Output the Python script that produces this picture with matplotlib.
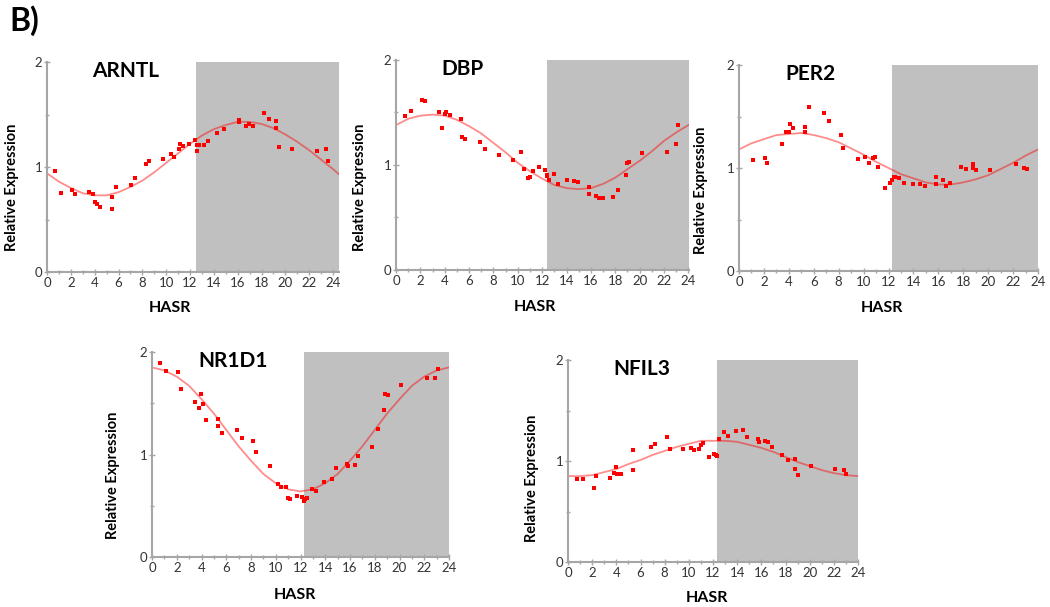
import matplotlib
matplotlib.use("Agg")
import matplotlib.pyplot as plt
from matplotlib.ticker import MultipleLocator

plt.rcParams['font.family'] = ['Lato', 'DejaVu Sans']

# fitted curves (hourly)
fit_hours = list(range(25))
arntl_fit_hours = fit_hours + [24.5]
arntl_fit = [0.94, 0.86, 0.80, 0.75, 0.73, 0.73, 0.76, 0.81, 0.87, 0.95, 1.04, 1.13,
             1.22, 1.30, 1.36, 1.40, 1.43, 1.43, 1.41, 1.37, 1.31, 1.24, 1.16, 1.07, 0.98, 0.93]
dbp_fit = [1.38, 1.44, 1.47, 1.48, 1.47, 1.43, 1.37, 1.30, 1.21, 1.12, 1.02, 0.94, 0.87,
           0.81, 0.78, 0.77, 0.78, 0.82, 0.88, 0.96, 1.04, 1.13, 1.23, 1.31, 1.38]
per2_fit = [1.18, 1.24, 1.28, 1.32, 1.33, 1.34, 1.32, 1.29, 1.25, 1.19, 1.13, 1.06, 1.00,
            0.94, 0.90, 0.86, 0.84, 0.84, 0.86, 0.89, 0.93, 0.99, 1.05, 1.12, 1.18]
nr1d1_fit = [1.85, 1.82, 1.76, 1.67, 1.54, 1.40, 1.24, 1.08, 0.94, 0.81, 0.72, 0.66, 0.64,
             0.66, 0.72, 0.81, 0.94, 1.08, 1.24, 1.40, 1.54, 1.67, 1.76, 1.82, 1.85]
nfil3_fit = [0.85, 0.85, 0.86, 0.89, 0.92, 0.97, 1.01, 1.06, 1.10, 1.14, 1.17, 1.20, 1.20,
             1.20, 1.19, 1.16, 1.13, 1.09, 1.04, 0.99, 0.95, 0.91, 0.88, 0.86, 0.85]

# sample points
arntl_x = [0.67, 1.17, 2.13, 2.35, 3.52, 3.83, 4.0, 4.17, 4.45, 5.45, 5.43, 5.76, 7.02, 7.36,
           8.34, 8.56, 9.73, 10.4, 10.65, 11.05, 11.16, 11.38, 11.94, 12.42, 12.56, 12.62,
           12.75, 13.17, 13.54, 14.24, 14.85, 16.11, 16.14, 16.73, 16.98, 17.29, 18.18, 18.6,
           19.19, 19.22, 19.47, 20.56, 22.66, 23.38, 23.58]
arntl_y = [0.965, 0.756, 0.784, 0.746, 0.765, 0.746, 0.663, 0.644, 0.616, 0.717, 0.597, 0.806,
           0.825, 0.898, 1.029, 1.06, 1.079, 1.121, 1.098, 1.168, 1.219, 1.2, 1.219, 1.257,
           1.149, 1.21, 1.21, 1.21, 1.251, 1.321, 1.359, 1.448, 1.432, 1.39, 1.41, 1.39, 1.517,
           1.46, 1.438, 1.368, 1.19, 1.171, 1.149, 1.171, 1.06]

dbp_x = [0.71, 1.2, 2.13, 2.35, 3.5, 3.8, 3.99, 4.13, 4.43, 5.36, 5.39, 5.69, 6.89, 7.27, 8.42,
         9.6, 10.22, 10.47, 10.85, 11.02, 11.21, 11.73, 12.19, 12.36, 12.38, 12.55, 12.93,
         13.31, 14.0, 14.6, 14.93, 15.86, 15.88, 16.43, 16.68, 17.03, 17.85, 18.26, 18.86,
         18.92, 19.11, 20.17, 22.25, 22.96, 23.18]
dbp_y = [1.47, 1.517, 1.619, 1.61, 1.508, 1.356, 1.489, 1.508, 1.479, 1.438, 1.267, 1.248,
         1.216, 1.149, 1.098, 1.048, 1.127, 0.962, 0.873, 0.883, 0.943, 0.981, 0.949, 0.908,
         0.895, 0.857, 0.911, 0.819, 0.86, 0.851, 0.841, 0.79, 0.721, 0.702, 0.689, 0.689,
         0.692, 0.762, 0.902, 1.016, 1.025, 1.117, 1.127, 1.197, 1.378]

per2_x = [1.12, 2.09, 2.27, 3.42, 3.75, 3.88, 4.01, 4.07, 4.36, 5.3, 5.3, 5.62, 6.82, 7.22,
          8.16, 8.37, 9.52, 10.14, 10.41, 10.78, 10.94, 11.16, 11.69, 12.15, 12.28, 12.41,
          12.55, 12.87, 13.27, 13.94, 14.5, 14.9, 15.79, 15.81, 16.37, 16.62, 16.96, 17.82,
          18.22, 18.81, 18.81, 19.05, 20.12, 22.21, 22.9, 23.12]
per2_y = [1.074, 1.094, 1.052, 1.23, 1.35, 1.35, 1.35, 1.43, 1.392, 1.401, 1.35, 1.589, 1.531,
          1.46, 1.32, 1.191, 1.084, 1.104, 1.052, 1.094, 1.104, 1.01, 0.809, 0.858, 0.887,
          0.916, 0.916, 0.9, 0.858, 0.848, 0.848, 0.825, 0.848, 0.916, 0.887, 0.828, 0.858,
          1.013, 0.987, 1.042, 0.997, 0.977, 0.977, 1.042, 0.997, 0.987]

nr1d1_x = [0.67, 1.16, 2.13, 2.32, 3.5, 3.77, 3.96, 4.12, 4.39, 5.33, 5.33, 5.68, 6.87, 7.25,
           8.19, 8.4, 9.56, 10.21, 10.45, 10.83, 10.96, 11.15, 11.72, 12.15, 12.28, 12.34,
           12.5, 12.9, 13.28, 13.93, 14.55, 14.9, 15.78, 15.81, 16.38, 16.62, 17.8, 18.24,
           18.77, 18.86, 19.07, 20.15, 22.2, 22.9, 23.11]
nr1d1_y = [1.89, 1.818, 1.809, 1.64, 1.511, 1.449, 1.588, 1.488, 1.339, 1.348, 1.277, 1.209,
           1.238, 1.157, 1.128, 1.028, 0.891, 0.713, 0.684, 0.684, 0.574, 0.564, 0.593, 0.583,
           0.545, 0.564, 0.574, 0.665, 0.645, 0.733, 0.765, 0.866, 0.908, 0.891, 0.901, 0.982,
           1.07, 1.248, 1.43, 1.592, 1.582, 1.679, 1.75, 1.75, 1.838]

nfil3_x = [0.72, 1.22, 2.13, 2.35, 3.48, 3.79, 3.98, 4.09, 4.42, 5.34, 5.34, 6.88, 7.24, 8.18,
           8.4, 9.54, 10.17, 10.42, 10.81, 10.97, 11.17, 11.7, 12.11, 12.22, 12.33, 12.47,
           12.88, 13.24, 13.91, 14.51, 14.85, 15.76, 15.79, 16.34, 16.59, 16.89, 17.75, 18.19,
           18.77, 18.8, 19.02, 20.07, 22.12, 22.84, 23.0]
nfil3_y = [0.826, 0.826, 0.737, 0.853, 0.836, 0.886, 0.936, 0.876, 0.876, 1.111, 0.906, 1.137,
           1.17, 1.24, 1.121, 1.121, 1.131, 1.111, 1.121, 1.16, 1.18, 1.041, 1.071, 1.061,
           1.051, 1.213, 1.289, 1.25, 1.299, 1.309, 1.24, 1.22, 1.19, 1.2, 1.19, 1.14, 1.061,
           1.012, 1.021, 0.919, 0.866, 0.955, 0.919, 0.906, 0.876]

W, H = 1050, 607

# (name, pts x, pts y, fit x, fit y, axes px [left, top, right, bottom], xmax, dark start,
#  ylabel px, xlabel px)
panels = [
    ("ARNTL", arntl_x, arntl_y, arntl_fit_hours, arntl_fit, (47, 62, 339, 272), 24.5, 12.5,
     (12, 187), (170, 308)),
    ("DBP", dbp_x, dbp_y, fit_hours, dbp_fit, (396, 60, 689, 270), 24.05, 12.4,
     (360, 187), (535, 307)),
    ("PER2", per2_x, per2_y, fit_hours, per2_fit, (739, 65, 1038, 271), 24, 12.3,
     (701, 190), (882, 308)),
    ("NR1D1", nr1d1_x, nr1d1_y, fit_hours, nr1d1_fit, (152, 352, 449, 557), 24, 12.3,
     (113, 475), (295, 595)),
    ("NFIL3", nfil3_x, nfil3_y, fit_hours, nfil3_fit, (568, 360, 858, 562), 24, 12.3,
     (532, 478), (707, 598)),
]

fig = plt.figure(figsize=(W / 100, H / 100), dpi=100)
fig.text(9 / W, 1 - 21 / H, "B)", fontsize=23, fontweight='bold', va='center', ha='left')

for name, px, py, fx, fy, box, xmax, dark, ylab, xlab in panels:
    l, t, r, b = box
    ax = fig.add_axes([l / W, 1 - b / H, (r - l) / W, (b - t) / H])
    ax.axvspan(dark, xmax, color='#c0c0c0', lw=0, zorder=0)
    ax.plot(fx, fy, color='red', alpha=0.45, lw=1.3, zorder=2)
    ax.plot(px, py, 's', color='red', ms=2.4, mew=0, zorder=3)
    ax.set_xlim(0, xmax)
    ax.set_ylim(0, 2)
    ax.xaxis.set_major_locator(MultipleLocator(2))
    ax.xaxis.set_minor_locator(MultipleLocator(1))
    ax.yaxis.set_major_locator(MultipleLocator(1))
    ax.yaxis.set_minor_locator(MultipleLocator(0.5))
    for s in ['top', 'right']:
        ax.spines[s].set_visible(False)
    for s in ['left', 'bottom']:
        ax.spines[s].set_color('#a6a6a6')
        ax.spines[s].set_linewidth(1.5)
    ax.tick_params(which='major', direction='inout', length=5, width=1, color='#a6a6a6',
                   labelsize=9.5, labelcolor='#333333', pad=1)
    ax.tick_params(which='minor', direction='inout', length=3, width=1, color='#a6a6a6')
    ax.text(0.155, 0.955, name, transform=ax.transAxes, fontsize=15, fontweight='bold',
            ha='left', va='center')
    fig.text(ylab[0] / W, 1 - ylab[1] / H, "Relative Expression", rotation=90,
             fontsize=10.5, fontweight='bold', ha='center', va='center')
    fig.text(xlab[0] / W, 1 - xlab[1] / H, "HASR", fontsize=11.5, fontweight='bold',
             ha='center', va='center')

fig.savefig("out.png", dpi=100)
